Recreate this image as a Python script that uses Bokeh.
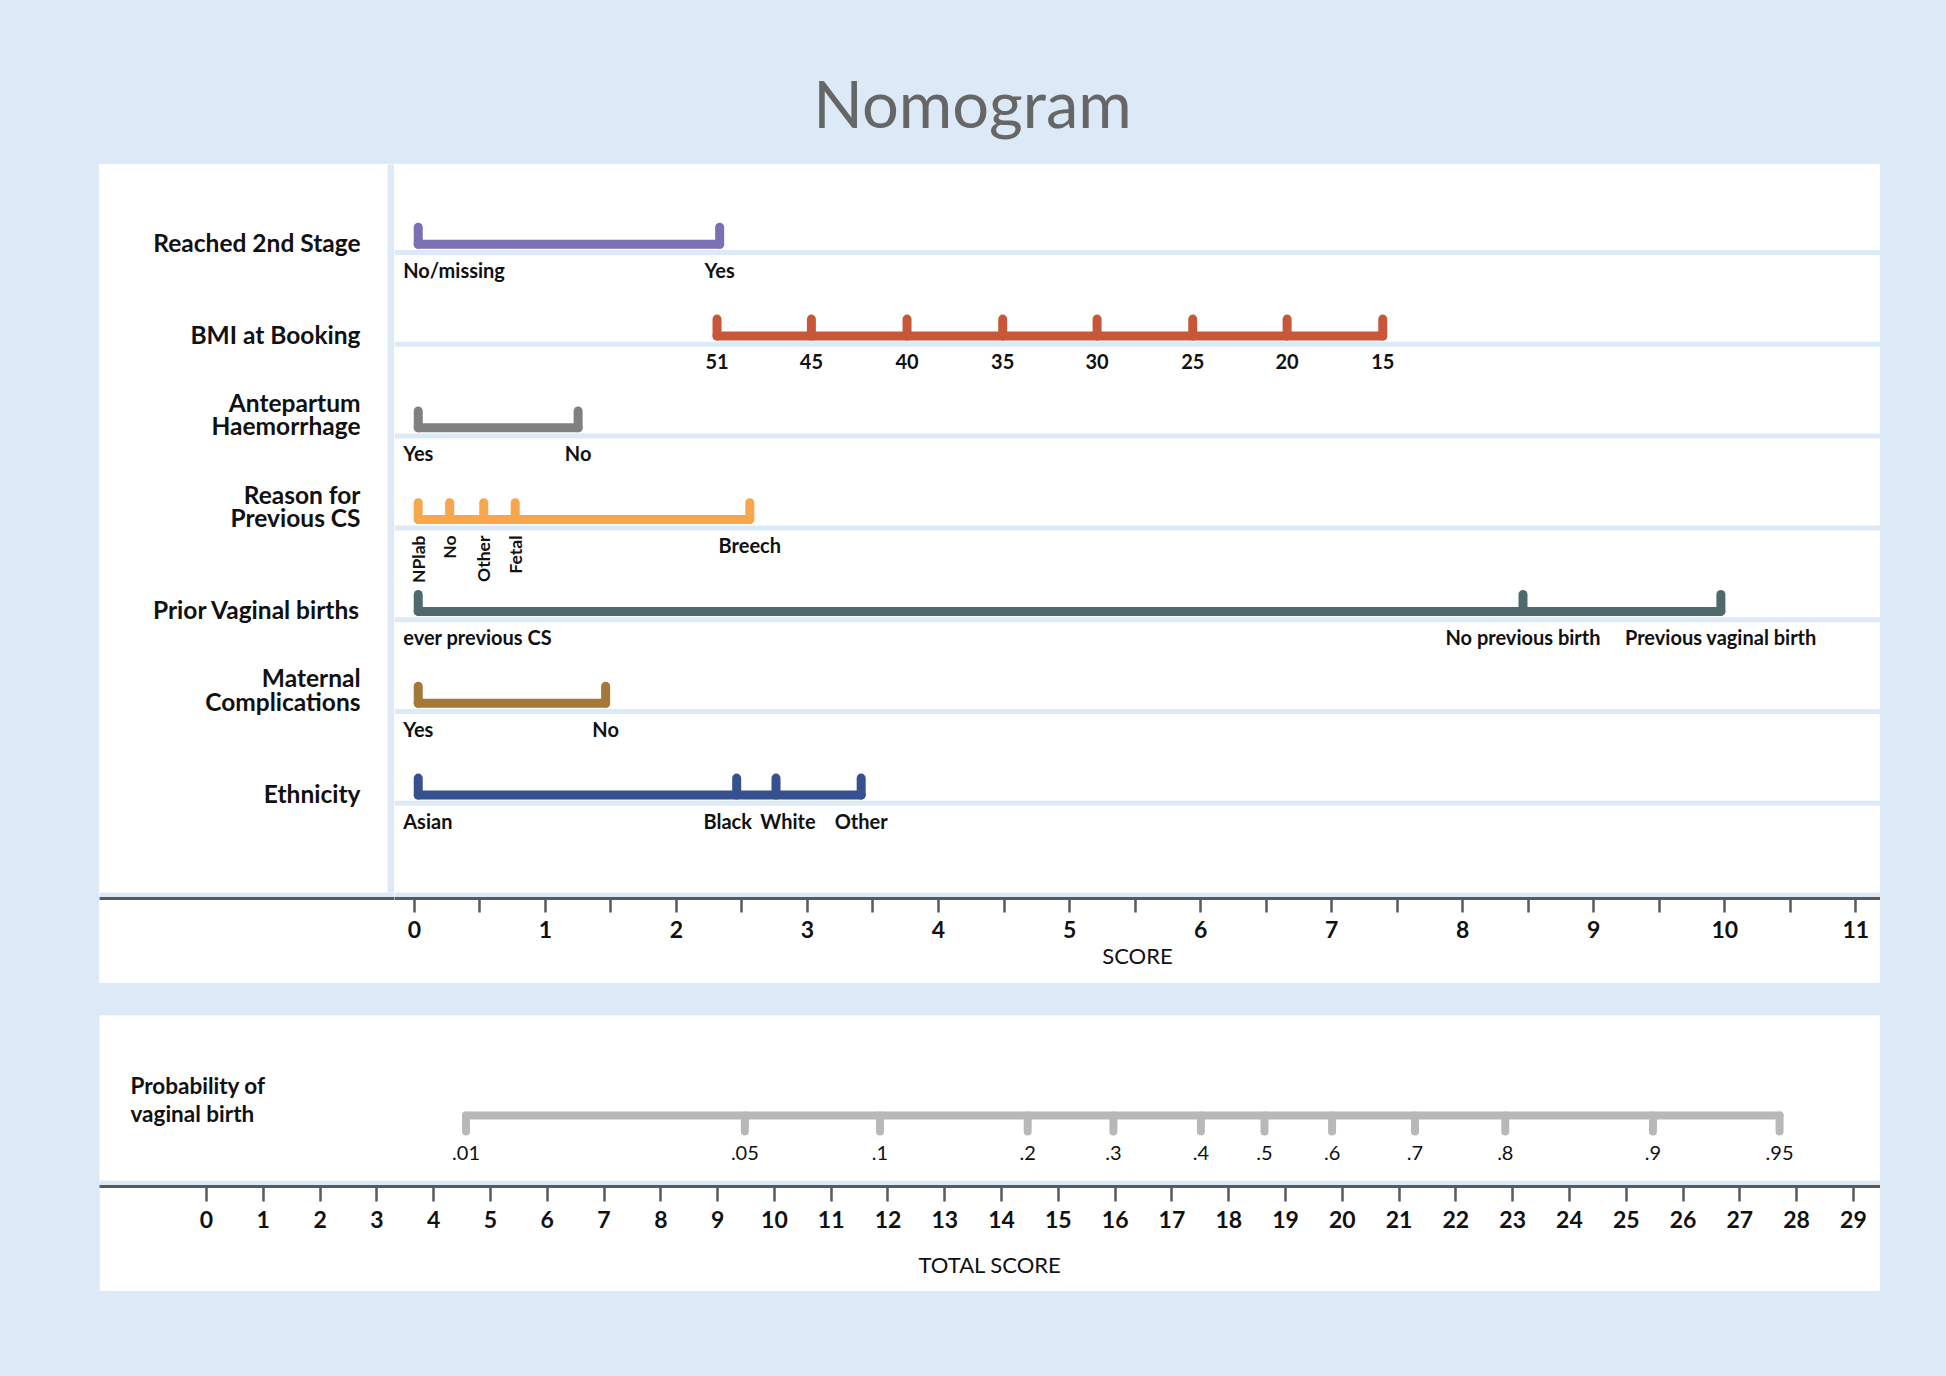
import numpy as np
from bokeh.plotting import figure
from bokeh.models import ColumnDataSource, Range1d, FixedTicker
from bokeh.layouts import column, row
from bokeh.core.properties import value
from bokeh.embed import file_html
from bokeh.resources import INLINE

# ---------------- data ----------------
ROW_NAMES = ["Reached 2nd Stage", "BMI at Booking", "Antepartum\nHaemorrhage",
             "Reason for\nPrevious CS", "Prior Vaginal births",
             "Maternal\nComplications", "Ethnicity"]

stage_labels = ["No/missing", "Yes"]
stage_points = [0.03, 2.33]
bmi_labels = ["51", "45", "40", "35", "30", "25", "20", "15"]
bmi_points = [2.31, 3.03, 3.76, 4.49, 5.21, 5.94, 6.66, 7.39]
aph_labels = ["Yes", "No"]
aph_points = [0.03, 1.25]
reason_labels = ["NPlab", "No", "Other", "Fetal", "Breech"]
reason_points = [0.03, 0.27, 0.53, 0.77, 2.56]
prior_labels = ["ever previous CS", "No previous birth", "Previous vaginal birth"]
prior_points = [0.03, 8.46, 9.97]
matcomp_labels = ["Yes", "No"]
matcomp_points = [0.03, 1.46]
eth_labels = ["Asian", "Black", "White", "Other"]
eth_points = [0.03, 2.46, 2.76, 3.41]

prob_labels = [".01", ".05", ".1", ".2", ".3", ".4", ".5", ".6", ".7", ".8", ".9", ".95"]
prob_points = [4.57, 9.48, 11.86, 14.46, 15.97, 17.51, 18.63, 19.82, 21.28, 22.87, 25.47, 27.70]

score_ticks = list(range(0, 12))
score_minor_ticks = [i + 0.5 for i in range(0, 11)]
total_ticks = list(range(0, 30))

# ---------------- style ----------------
FONT = "Lato"
BG = "#dceaf7"
AXIS_C = "#5a5a5a"
TXT = "#111111"
COLORS = ["#7a70b4", "#c85638", "#808080", "#f7a64b", "#4f6a6c", "#a57838", "#355190"]
PROB_C = "#b8b8b8"

ROWS = [
    (stage_labels, stage_points),
    (bmi_labels, bmi_points),
    (aph_labels, aph_points),
    (reason_labels, reason_points),
    (prior_labels, prior_points),
    (matcomp_labels, matcomp_points),
    (eth_labels, eth_points),
]
FIRST_LEFT = [True, False, True, True, True, True, True]
ROTATED = [0, 0, 0, 4, 0, 0, 0]          # number of leading labels drawn vertically
LABEL_DX = {(6, 1): -9, (6, 2): 12}       # small pixel nudges to avoid overlap

Y_TOP, Y_BOT = -0.9586, 7.037
Y_WHITE_BOT = 6.972
BAR_DY = -0.0904
TICK_DY = -0.2745
LAB_DY = 0.189
SEP_H = 0.027
LEFT_PAD = 99


def base_fig(w, h, xr, yr, mb=0):
    p = figure(width=w, height=h, x_range=xr, y_range=yr,
               output_backend="svg", toolbar_location=None,
               min_border_left=0, min_border_right=0, min_border_top=0,
               min_border_bottom=mb)
    p.background_fill_color = "white"
    p.border_fill_color = "white"
    p.outline_line_color = None
    p.grid.visible = False
    p.yaxis.visible = False
    return p


def style_axis(ax):
    ax.axis_line_color = AXIS_C
    ax.axis_line_width = 3
    ax.major_tick_line_color = AXIS_C
    ax.major_tick_line_width = 2.5
    ax.major_tick_out = 14
    ax.major_tick_in = 0
    ax.minor_tick_line_color = AXIS_C
    ax.minor_tick_line_width = 2.5
    ax.minor_tick_out = 14
    ax.minor_tick_in = 0
    ax.major_label_text_font = FONT
    ax.major_label_text_font_style = "bold"
    ax.major_label_text_font_size = "23px"
    ax.major_label_text_color = TXT
    ax.axis_label_text_font = FONT
    ax.axis_label_text_font_style = "normal"
    ax.axis_label_text_font_size = "22px"
    ax.axis_label_text_color = TXT


# ---------------- title ----------------
title_fig = figure(width=1946, height=164, x_range=Range1d(0, 1), y_range=Range1d(0, 1),
                   output_backend="svg", toolbar_location=None,
                   min_border=0)
title_fig.background_fill_color = BG
title_fig.border_fill_color = BG
title_fig.outline_line_color = None
title_fig.axis.visible = False
title_fig.grid.visible = False
title_fig.text(x=[0.4995], y=[0.372], text=["Nomogram"], text_font=value(FONT),
               text_font_size=value("65px"), text_color="#666666",
               text_align="center", text_baseline="alphabetic")

# ---------------- label column (left part of upper panel) ----------------
lab_fig = base_fig(295, 819, Range1d(0, 295), Range1d(Y_BOT, Y_TOP), mb=85)
lab_fig.xaxis.ticker = FixedTicker(ticks=[])
style_axis(lab_fig.xaxis[0])
lab_fig.quad(left=[288], right=[295], top=[Y_TOP], bottom=[Y_WHITE_BOT],
             fill_color=BG, line_color=None)
lab_fig.quad(left=[0], right=[295], top=[Y_WHITE_BOT], bottom=[Y_BOT],
             fill_color=BG, line_color=None)
nx, ny, nt = [], [], []
for k, name in enumerate(ROW_NAMES):
    lines = name.split("\n")
    for j, line in enumerate(reversed(lines)):
        nx.append(261)
        ny.append(k - 0.112 - j * 0.257)
        nt.append(line)
lab_fig.text(x="x", y="y", text="t", source=ColumnDataSource(dict(x=nx, y=ny, t=nt)),
             text_font=value(FONT), text_font_style="bold", text_font_size=value("24.5px"),
             text_color=TXT, text_align="right", text_baseline="middle")

# ---------------- scale panel ----------------
top_fig = base_fig(1486, 819, Range1d(-0.1511, 11.188), Range1d(Y_BOT, Y_TOP), mb=85)
top_fig.xaxis.ticker = FixedTicker(ticks=score_ticks, minor_ticks=score_minor_ticks)
top_fig.xaxis.axis_label = "SCORE"
style_axis(top_fig.xaxis[0])
top_fig.xaxis.major_label_standoff = 8
top_fig.xaxis.axis_label_standoff = 1

# separators
n = len(ROWS)
top_fig.quad(left=[-0.1511] * n, right=[11.188] * n,
             top=[k - SEP_H for k in range(n)], bottom=[k + SEP_H for k in range(n)],
             fill_color=BG, line_color=None)
top_fig.quad(left=[-0.1511], right=[11.188], top=[Y_WHITE_BOT], bottom=[Y_BOT],
             fill_color=BG, line_color=None)

left_src = dict(x=[], y=[], t=[], dx=[])
cen_src = dict(x=[], y=[], t=[], dx=[])
rot_src = dict(x=[], y=[], t=[])
for k, (labels, pts) in enumerate(ROWS):
    c = COLORS[k]
    yb = k + BAR_DY
    top_fig.segment(x0=[min(pts)], y0=[yb], x1=[max(pts)], y1=[yb],
                    line_color=c, line_width=9, line_cap="round")
    top_fig.segment(x0=pts, y0=[yb] * len(pts), x1=pts, y1=[k + TICK_DY] * len(pts),
                    line_color=c, line_width=9, line_cap="round")
    for i, (lab, pt) in enumerate(zip(labels, pts)):
        if i < ROTATED[k]:
            rot_src["x"].append(pt); rot_src["y"].append(k + 0.083); rot_src["t"].append(lab)
        elif i == 0 and FIRST_LEFT[k]:
            left_src["x"].append(pt); left_src["y"].append(k + LAB_DY)
            left_src["t"].append(lab); left_src["dx"].append(-15)
        else:
            cen_src["x"].append(pt); cen_src["y"].append(k + LAB_DY)
            cen_src["t"].append(lab); cen_src["dx"].append(LABEL_DX.get((k, i), 0))

common = dict(text_font=value(FONT), text_font_style="bold", text_color=TXT,
              text_baseline="middle")
top_fig.text(x="x", y="y", text="t", x_offset="dx", source=ColumnDataSource(left_src),
             text_font_size=value("20px"), text_align="left", **common)
top_fig.text(x="x", y="y", text="t", x_offset="dx", source=ColumnDataSource(cen_src),
             text_font_size=value("20px"), text_align="center", **common)
top_fig.text(x="x", y="y", text="t", source=ColumnDataSource(rot_src), angle=np.pi / 2,
             text_font_size=value("17.5px"), text_align="right", **common)

# ---------------- probability panel ----------------
bot_fig = base_fig(1781, 276, Range1d(-1.884, 29.477), Range1d(171, 0), mb=105)
bot_fig.xaxis.ticker = FixedTicker(ticks=total_ticks, minor_ticks=[])
bot_fig.xaxis.axis_label = "TOTAL SCORE"
style_axis(bot_fig.xaxis[0])
bot_fig.xaxis.major_tick_out = 15
bot_fig.xaxis.major_label_standoff = 9
bot_fig.xaxis.axis_label_standoff = 20
bot_fig.quad(left=[-1.884], right=[29.477], top=[165], bottom=[171],
             fill_color=BG, line_color=None)
bot_fig.segment(x0=[min(prob_points)], y0=[100], x1=[max(prob_points)], y1=[100],
                line_color=PROB_C, line_width=8, line_cap="round")
bot_fig.segment(x0=prob_points, y0=[100] * len(prob_points), x1=prob_points,
                y1=[116] * len(prob_points), line_color=PROB_C, line_width=8, line_cap="round")
bot_fig.text(x=prob_points, y=[137] * len(prob_points), text=prob_labels,
             text_font=value(FONT), text_font_size=value("20px"), text_color=TXT,
             text_align="center", text_baseline="middle")
bot_fig.text(x=[-1.338, -1.338], y=[70, 98], text=["Probability of", "vaginal birth"],
             text_font=value(FONT), text_font_style="bold", text_font_size=value("22.5px"),
             text_color=TXT, text_align="left", text_baseline="middle")
bot_fig.margin = (32, 0, 0, LEFT_PAD)

upper = row(lab_fig, top_fig, margin=(0, 0, 0, LEFT_PAD),
            styles={"background-color": "white"})

extra = {}
try:
    from bokeh.models import GlobalInlineStyleSheet
    extra["stylesheets"] = [GlobalInlineStyleSheet(css="html, body { background-color: %s; }" % BG)]
except Exception:
    pass

p = column(title_fig, upper, bot_fig, width=1946, height=1376,
           styles={"background-color": BG}, **extra)

open("out.html", "w").write(file_html(p, INLINE))
